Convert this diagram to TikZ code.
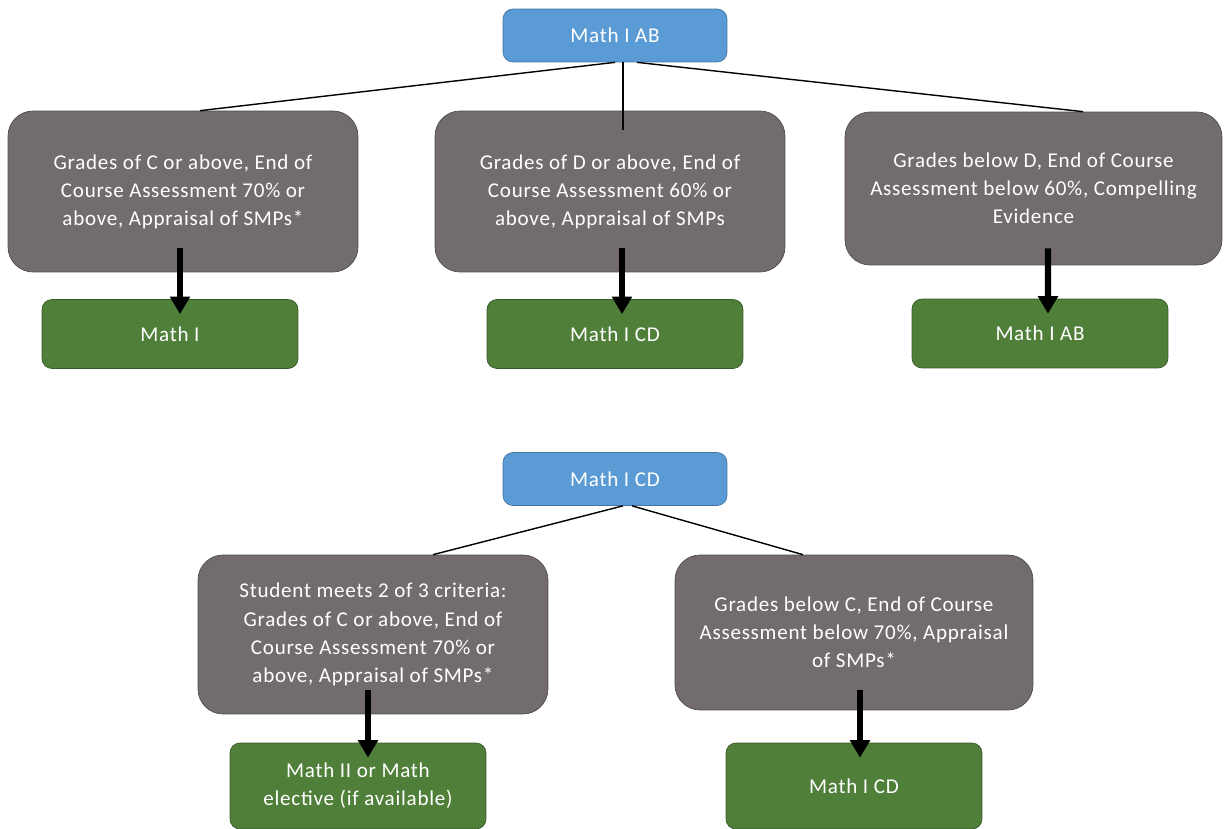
\documentclass[tikz,border=0pt]{standalone}
\usepackage{fontspec}
\setmainfont{Carlito}[LetterSpace=3.5]
\usepackage{tikz}
\usetikzlibrary{arrows.meta}
\definecolor{mathblue}{RGB}{91,155,213}
\definecolor{mathgray}{RGB}{114,109,108}
\definecolor{mathgreen}{RGB}{80,127,58}

\begin{document}
\begin{tikzpicture}[x=0.02cm,y=-0.02cm,
  every node/.style={font=\fontsize{12}{16}\selectfont,text=white,align=center,inner sep=2pt},
  topbox/.style={fill=mathblue,draw=mathblue!75!black,rounded corners=0.2cm,minimum width=4.48cm,minimum height=1.06cm},
  critbox/.style={fill=mathgray,draw=mathgray!70!black,rounded corners=0.5cm,minimum width=7cm,minimum height=3.22cm},
  resbox/.style={fill=mathgreen,draw=mathgreen!70!black,rounded corners=0.2cm,minimum width=5.12cm,minimum height=1.38cm},
  link/.style={line width=0.8pt},
  arr/.style={line width=3.5pt,-{Triangle[width=11pt,length=10pt]}}]
\useasboundingbox (0,0) rectangle (1225,829);
\node[topbox] (ab) at (615,35.5) {Math I AB};
\node[critbox] (c1) at (183,191.5) {Grades of C or above, End of\\Course Assessment 70\% or\\above, Appraisal of SMPs*};
\node[critbox] (c2) at (610,191.5) {Grades of D or above, End of\\Course Assessment 60\% or\\above, Appraisal of SMPs};
\node[critbox,minimum width=7.54cm,minimum height=3.06cm] (c3) at (1033.5,188.5) {Grades below D, End of Course\\Assessment below 60\%, Compelling\\Evidence};
\node[resbox] (g1) at (170,334) {Math I};
\node[resbox] (g2) at (615,334) {Math I CD};
\node[resbox] (g3) at (1040,333.5) {Math I AB};
\draw[link] (ab.south) -- ([shift={(17,0)}]c1.north);
\draw[link] ([shift={(8,0)}]ab.south) -- ([shift={(13,19)}]c2.north);
\draw[link] ([shift={(22,0)}]ab.south) -- ([shift={(49.5,0)}]c3.north);
\draw[arr] ([shift={(-3,-24)}]c1.south) -- ([shift={(10,15)}]g1.north);
\draw[arr] ([shift={(12,-24)}]c2.south) -- ([shift={(7,15)}]g2.north);
\draw[arr] ([shift={(14.5,-17)}]c3.south) -- ([shift={(8,15)}]g3.north);
\node[topbox] (cd) at (615,479) {Math I CD};
\node[critbox,minimum height=3.18cm] (c4) at (373,634.5) {Student meets 2 of 3 criteria:\\Grades of C or above, End of\\Course Assessment 70\% or\\above, Appraisal of SMPs*};
\node[critbox,minimum width=7.16cm,minimum height=3.1cm] (c5) at (854,632.5) {Grades below C, End of Course\\Assessment below 70\%, Appraisal\\of SMPs*};
\node[resbox,minimum height=1.72cm] (g4) at (358,786) {Math II or Math\\elective (if available)};
\node[resbox,minimum height=1.72cm] (g5) at (854,786) {Math I CD};
\draw[link] ([shift={(8,0)}]cd.south) -- ([shift={(60,0)}]c4.north);
\draw[link] ([shift={(17,0)}]cd.south) -- ([shift={(-51,0)}]c5.north);
\draw[arr] ([shift={(-5,-24)}]c4.south) -- ([shift={(10,15)}]g4.north);
\draw[arr] ([shift={(6,-20)}]c5.south) -- ([shift={(6,15)}]g5.north);
\end{tikzpicture}
\end{document}
